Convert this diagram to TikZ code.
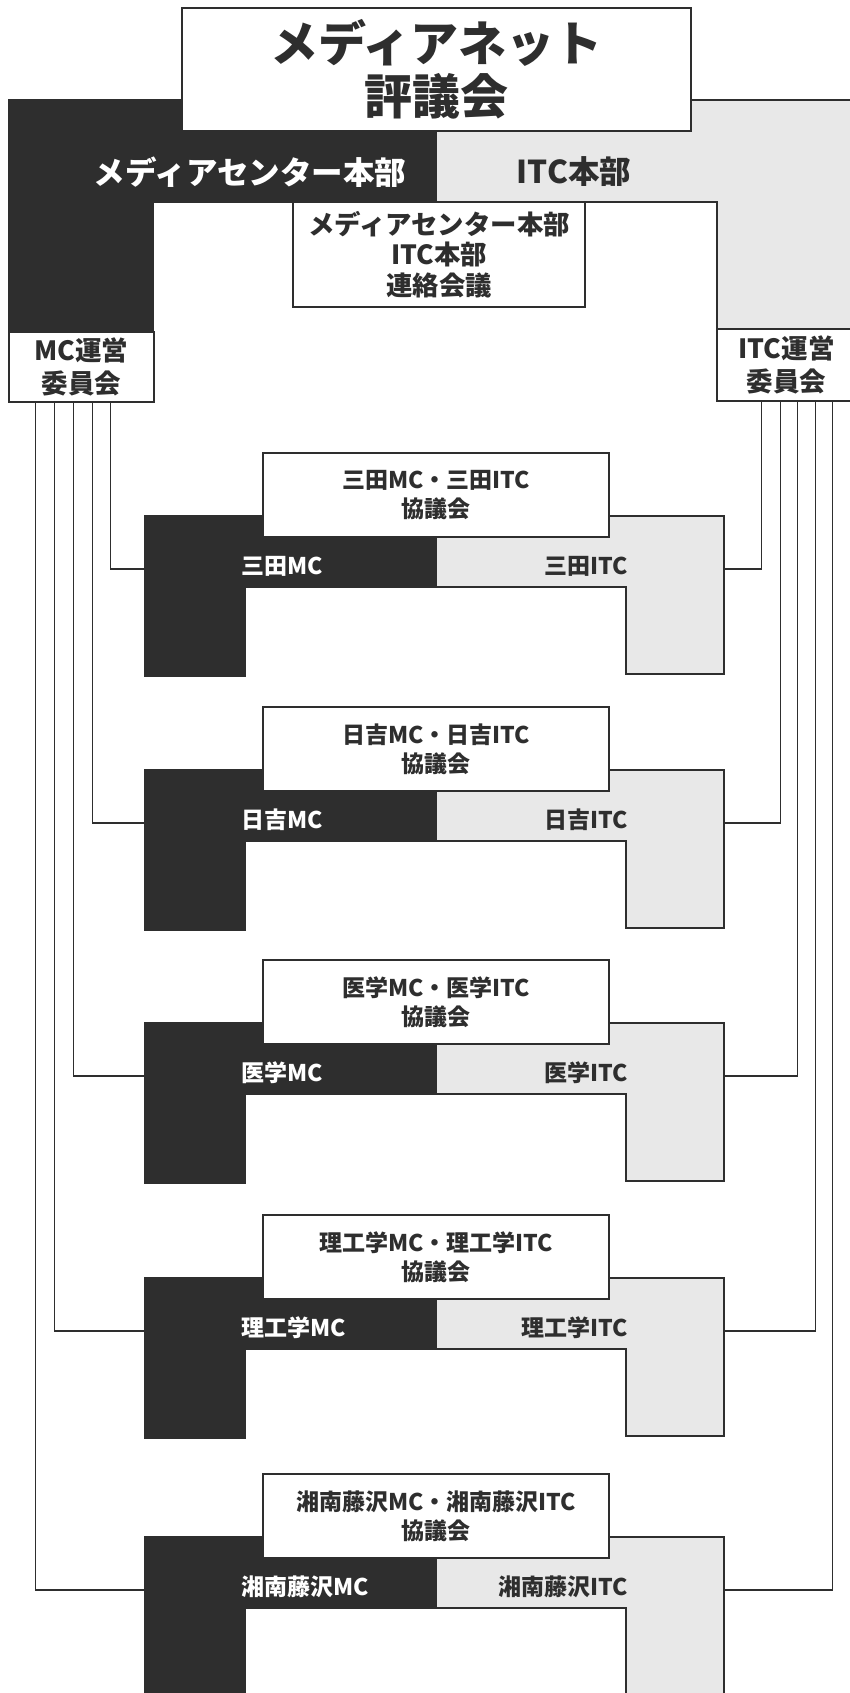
\documentclass[tikz,border=0pt]{standalone}
\usepackage{fontspec}
\setmainfont{Noto Sans CJK JP}
\usetikzlibrary{positioning}
\definecolor{mcdark}{gray}{0.18}
\definecolor{itclight}{gray}{0.91}

\begin{document}
\begin{tikzpicture}[
    x=1pt, y=-1pt,
    every node/.style={inner sep=0pt, text=mcdark},
    frame/.style={draw=mcdark, line width=1.6pt},
    whitebox/.style={draw=mcdark, line width=1.6pt, fill=white, align=center},
    link/.style={draw=mcdark, line width=1.3pt},
    hqlabel/.style={font=\bfseries\fontsize{31.5}{36}\selectfont},
    sitelabel/.style={font=\bfseries\fontsize{23}{27}\selectfont}
]
\useasboundingbox (0,0) rectangle (849,1693);

% headquarters band
\fill[mcdark] (9,100) rectangle (437,202);
\fill[mcdark] (9,100) rectangle (153,332);
\fill[itclight] (437,100) rectangle (856,202);
\fill[itclight] (717,100) rectangle (856,330);
\draw[frame] (9,332) -- (9,100) -- (856,100);
\draw[frame] (153,332) -- (153,202) -- (717,202) -- (717,330);
\node[hqlabel, text=white] (mchq) at (250,172) {メディアセンター本部};
\node[hqlabel] (itchq) at (574,172) {ITC本部};

\node[whitebox, minimum width=292pt, minimum height=105pt,
      font=\bfseries\fontsize{26.4}{30.5}\selectfont] (liaison) at (439,254.5)
      {メディアセンター本部\\ITC本部\\連絡会議};
\node[whitebox, minimum width=509pt, minimum height=123pt,
      font=\bfseries\fontsize{48}{53}\selectfont] (net) at (436.5,69.5)
      {メディアネット\\評議会};
\node[whitebox, minimum width=145pt, minimum height=70pt,
      font=\bfseries\fontsize{26.5}{33}\selectfont] (mcc) at (81.5,367)
      {MC運営\\委員会};
\node[whitebox, minimum width=139pt, minimum height=72pt,
      font=\bfseries\fontsize{26.5}{33}\selectfont] (itcc) at (786.5,365)
      {ITC運営\\委員会};

% campus blocks with their councils
\foreach \ctop/\cid/\site/\lsh/\rsh in {453/mita/三田/102/45, 707/hiyoshi/日吉/84/64,
    960/shinano/医学/65/81, 1215/yagami/理工学/46/99, 1474/sfc/湘南藤沢/27/116} {
  \fill[mcdark] (145,{\ctop+63}) rectangle (437,{\ctop+134});
  \fill[mcdark] (145,{\ctop+63}) rectangle (245,{\ctop+223});
  \fill[itclight] (437,{\ctop+63}) rectangle (724,{\ctop+134});
  \fill[itclight] (626,{\ctop+63}) rectangle (724,{\ctop+221});
  \draw[frame] (145,{\ctop+63}) -- (724,{\ctop+63}) -- (724,{\ctop+221})
    -- (626,{\ctop+221}) -- (626,{\ctop+134}) -- (245,{\ctop+134})
    -- (245,{\ctop+223}) -- (145,{\ctop+223}) -- cycle;
  \node[whitebox, sitelabel, minimum width=346pt, minimum height=84pt,
        font=\bfseries\fontsize{23}{29}\selectfont] (\cid-council) at (436,{\ctop+42})
        {\site MC・\site ITC\\協議会};
  \node[sitelabel, text=white, anchor=west] (\cid-mc) at (241,{\ctop+113}) {\site MC};
  \node[sitelabel, anchor=east] (\cid-itc) at (628,{\ctop+113}) {\site ITC};
  \coordinate (\cid-l) at (145,{\ctop+116});
  \coordinate (\cid-r) at (724,{\ctop+116});
  \draw[link] ([xshift=\lsh pt]mcc.south west) |- (\cid-l);
  \draw[link] ([xshift=\rsh pt]itcc.south west) |- (\cid-r);
}
\end{tikzpicture}
\end{document}
